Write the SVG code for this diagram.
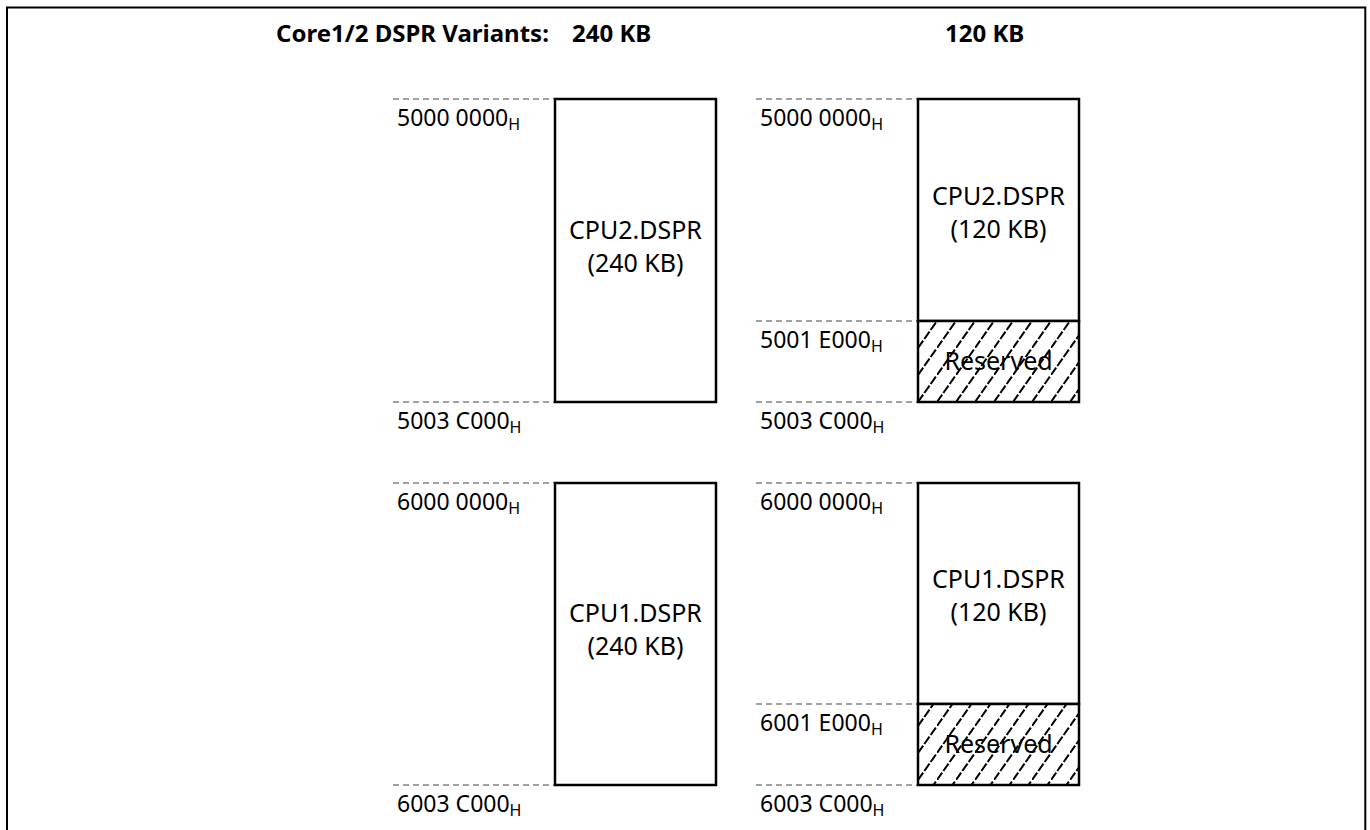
<svg xmlns="http://www.w3.org/2000/svg" width="1370" height="830" viewBox="0 0 1370 830">
<style>
.frame{fill:none;stroke:#000;stroke-width:2}
.box{fill:#fff;stroke:#000;stroke-width:2.5}
.hatch{fill:url(#hatch);stroke:#000;stroke-width:2.5}
.guide{stroke:#444;stroke-width:1;stroke-dasharray:6 4;fill:none}
.title{font-family:"Noto Sans","Liberation Sans",sans-serif;font-weight:bold;font-size:24px;fill:#000}
.lbl{font-family:"Noto Sans","Liberation Sans",sans-serif;font-size:23px;fill:#000}
.sub{font-size:16px}
.name{font-family:"Noto Sans","Liberation Sans",sans-serif;font-size:25px;fill:#000;text-anchor:middle}
</style>
<defs>
<pattern id="hatch" patternUnits="userSpaceOnUse" width="19" height="27" x="918" y="321">
<rect width="19" height="27" fill="#fff"/>
<line x1="0" y1="27" x2="19" y2="0" stroke="#000" stroke-width="2" stroke-dasharray="9 2"/>
</pattern>
</defs>
<path class="frame" d="M7,830 V7.5 H1365.3 V830"/>
<g id="title">
<text class="title" x="276" y="42">Core1/2 DSPR Variants:</text>
<text class="title" x="572" y="42">240 KB</text>
<text class="title" x="945" y="42">120 KB</text>
</g>
<g id="guides">
<line class="guide" x1="393" y1="99" x2="555" y2="99"/>
<line class="guide" x1="393" y1="402" x2="555" y2="402"/>
<line class="guide" x1="393" y1="483" x2="555" y2="483"/>
<line class="guide" x1="393" y1="785" x2="555" y2="785"/>
<line class="guide" x1="756" y1="99" x2="918" y2="99"/>
<line class="guide" x1="756" y1="321" x2="918" y2="321"/>
<line class="guide" x1="756" y1="402" x2="918" y2="402"/>
<line class="guide" x1="756" y1="483" x2="918" y2="483"/>
<line class="guide" x1="756" y1="704" x2="918" y2="704"/>
<line class="guide" x1="756" y1="785" x2="918" y2="785"/>
</g>
<g id="cpu2-240">
<rect class="box" x="555" y="99" width="161" height="303"/>
<text class="name" x="635.5" y="239">CPU2.DSPR</text>
<text class="name" x="635.5" y="272">(240 KB)</text>
</g>
<g id="cpu2-120">
<rect class="box" x="918" y="99" width="161" height="222"/>
<text class="name" x="998.5" y="205">CPU2.DSPR</text>
<text class="name" x="998.5" y="238">(120 KB)</text>
</g>
<g id="cpu2-reserved">
<rect class="hatch" x="918" y="321" width="161" height="81"/>
<text class="name" x="998.5" y="370">Reserved</text>
</g>
<g id="cpu1-240">
<rect class="box" x="555" y="483" width="161" height="302"/>
<text class="name" x="635.5" y="622">CPU1.DSPR</text>
<text class="name" x="635.5" y="655">(240 KB)</text>
</g>
<g id="cpu1-120">
<rect class="box" x="918" y="483" width="161" height="221"/>
<text class="name" x="998.5" y="588">CPU1.DSPR</text>
<text class="name" x="998.5" y="621">(120 KB)</text>
</g>
<g id="cpu1-reserved">
<rect class="hatch" x="918" y="704" width="161" height="81"/>
<text class="name" x="998.5" y="753">Reserved</text>
</g>
<g id="addresses">
<text class="lbl" x="397" y="126">5000 0000<tspan class="sub" dy="4">H</tspan></text>
<text class="lbl" x="397" y="429">5003 C000<tspan class="sub" dy="4">H</tspan></text>
<text class="lbl" x="397" y="510">6000 0000<tspan class="sub" dy="4">H</tspan></text>
<text class="lbl" x="397" y="812">6003 C000<tspan class="sub" dy="4">H</tspan></text>
<text class="lbl" x="760" y="126">5000 0000<tspan class="sub" dy="4">H</tspan></text>
<text class="lbl" x="760" y="348">5001 E000<tspan class="sub" dy="4">H</tspan></text>
<text class="lbl" x="760" y="429">5003 C000<tspan class="sub" dy="4">H</tspan></text>
<text class="lbl" x="760" y="510">6000 0000<tspan class="sub" dy="4">H</tspan></text>
<text class="lbl" x="760" y="731">6001 E000<tspan class="sub" dy="4">H</tspan></text>
<text class="lbl" x="760" y="812">6003 C000<tspan class="sub" dy="4">H</tspan></text>
</g>
</svg>
